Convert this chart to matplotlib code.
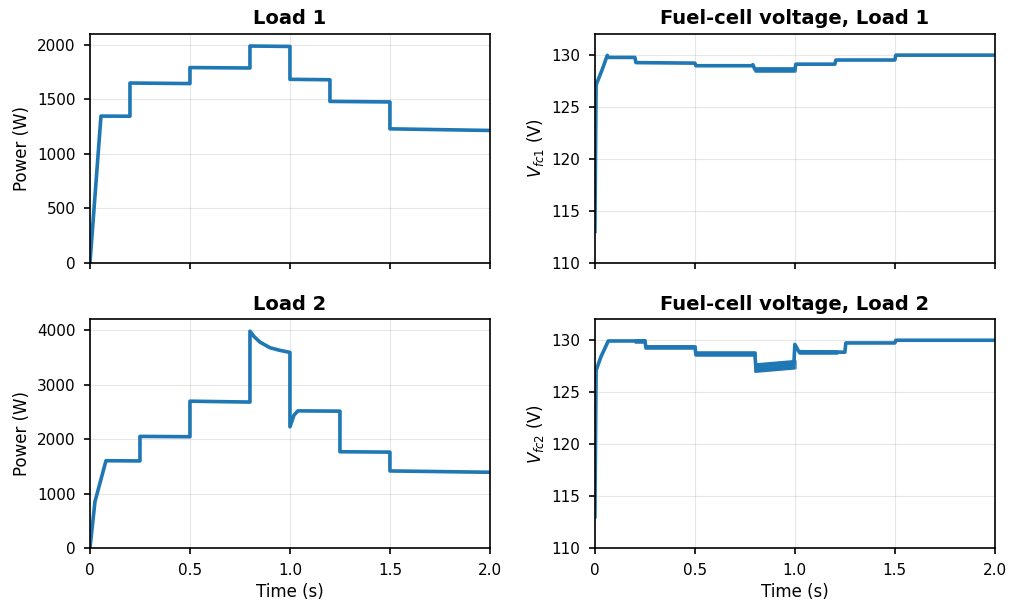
import numpy as np
import matplotlib
matplotlib.use("Agg")
import matplotlib.pyplot as plt
from matplotlib.ticker import FuncFormatter

BLUE = "#1f77b4"

# Load 1 power (W)
p1_t = [0, 0.055, 0.2, 0.2, 0.5, 0.5, 0.8, 0.8, 1.0, 1.0, 1.2, 1.2, 1.5, 1.5, 2.0]
p1_w = [0, 1346, 1345, 1650, 1645, 1792, 1788, 1990, 1986, 1684, 1680, 1481, 1476, 1229, 1214]

# Load 2 power (W)
p2_t = [0, 0.025, 0.08, 0.25, 0.25, 0.5, 0.5, 0.8, 0.8, 0.82, 0.85, 0.9, 0.95, 1.0, 1.0,
        1.02, 1.04, 1.25, 1.25, 1.5, 1.5, 2.0]
p2_w = [0, 853, 1604, 1600, 2051, 2045, 2698, 2682, 3985, 3888, 3784, 3681, 3632, 3595, 2227,
        2441, 2520, 2515, 1769, 1762, 1416, 1392]

# Fuel-cell voltage, Load 1 (V)
v1_t = [0, 0.006, 0.037, 0.062, 0.068, 0.2, 0.205, 0.5, 0.505, 0.785, 0.79, 0.8,
        1.0, 1.005, 1.2, 1.205, 1.5, 1.505, 2.0]
v1_v = [113, 127.1, 128.6, 129.95, 129.75, 129.75, 129.25, 129.2, 128.95, 128.95, 129.05, 128.6,
        128.6, 129.1, 129.1, 129.5, 129.5, 129.97, 129.97]
v1_band_t0 = [0.8]
v1_band_t1 = [1.0]
v1_band_lo0 = [128.49]
v1_band_lo1 = [128.49]
v1_band_hi0 = [128.69]
v1_band_hi1 = [128.69]

# Fuel-cell voltage, Load 2 (V)
v2_t = [0, 0.006, 0.03, 0.067, 0.2, 0.25, 0.255, 0.5, 0.505, 0.8, 0.805, 0.995, 1.0,
        1.02, 1.25, 1.255, 1.5, 1.505, 2.0]
v2_v = [113, 127.1, 128.4, 129.93, 129.93, 129.95, 129.35, 129.35, 128.7, 128.7, 127.37, 127.7, 129.6,
        128.9, 128.85, 129.74, 129.74, 130.0, 130.0]
v2_band_t0 = [0.2, 0.25, 0.5, 0.8, 1.02]
v2_band_t1 = [0.25, 0.5, 0.8, 1.0, 1.21]
v2_band_lo0 = [129.8, 129.22, 128.58, 127.02, 128.8]
v2_band_lo1 = [129.8, 129.22, 128.58, 127.35, 128.8]
v2_band_hi0 = [130.07, 129.49, 128.84, 127.71, 129.0]
v2_band_hi1 = [130.07, 129.49, 128.84, 128.04, 129.0]

plt.rcParams["font.family"] = "DejaVu Sans"

fig, axes = plt.subplots(2, 2, figsize=(10.11, 6.08), dpi=100, sharex=True)
fig.subplots_adjust(left=0.089, right=0.984, top=0.944, bottom=0.0987, wspace=0.2625, hspace=0.249)

LW = 2.6


def style(ax, title, ylabel):
    ax.set_title(title, fontsize=14, fontweight="bold", pad=7)
    ax.set_ylabel(ylabel, fontsize=12)
    ax.grid(True, color="#b0b0b0", alpha=0.3, lw=0.8)
    ax.tick_params(labelsize=11, width=1.2, length=4.5, pad=6, color="black")
    for s in ax.spines.values():
        s.set_linewidth(1.2)
        s.set_color("black")
    ax.set_xlim(0, 2.0)
    ax.set_xticks([0, 0.5, 1.0, 1.5, 2.0])
    ax.xaxis.set_major_formatter(FuncFormatter(lambda v, p: "0" if v == 0 else f"{v:.1f}"))


def bands(ax, t0, t1, lo0, lo1, hi0, hi1):
    for a, b, l0, l1, h0, h1 in zip(t0, t1, lo0, lo1, hi0, hi1):
        ax.fill_between([a, b], [l0, l1], [h0, h1], color=BLUE, lw=LW * 0.7)


ax = axes[0, 0]
ax.plot(p1_t, p1_w, color=BLUE, lw=LW)
ax.set_ylim(0, 2100)
ax.set_yticks([0, 500, 1000, 1500, 2000])
style(ax, "Load 1", "Power (W)")

ax = axes[1, 0]
ax.plot(p2_t, p2_w, color=BLUE, lw=LW)
ax.set_ylim(0, 4200)
ax.set_yticks([0, 1000, 2000, 3000, 4000])
style(ax, "Load 2", "Power (W)")
ax.set_xlabel("Time (s)", fontsize=12)

ax = axes[0, 1]
ax.plot(v1_t, v1_v, color=BLUE, lw=LW)
bands(ax, v1_band_t0, v1_band_t1, v1_band_lo0, v1_band_lo1, v1_band_hi0, v1_band_hi1)
ax.set_ylim(110, 132)
ax.set_yticks([110, 115, 120, 125, 130])
style(ax, "Fuel-cell voltage, Load 1", r"$V_{fc1}$ (V)")

ax = axes[1, 1]
ax.plot(v2_t, v2_v, color=BLUE, lw=LW)
bands(ax, v2_band_t0, v2_band_t1, v2_band_lo0, v2_band_lo1, v2_band_hi0, v2_band_hi1)
ax.set_ylim(110, 132)
ax.set_yticks([110, 115, 120, 125, 130])
style(ax, "Fuel-cell voltage, Load 2", r"$V_{fc2}$ (V)")
ax.set_xlabel("Time (s)", fontsize=12)

fig.savefig("out.png", dpi=100)
